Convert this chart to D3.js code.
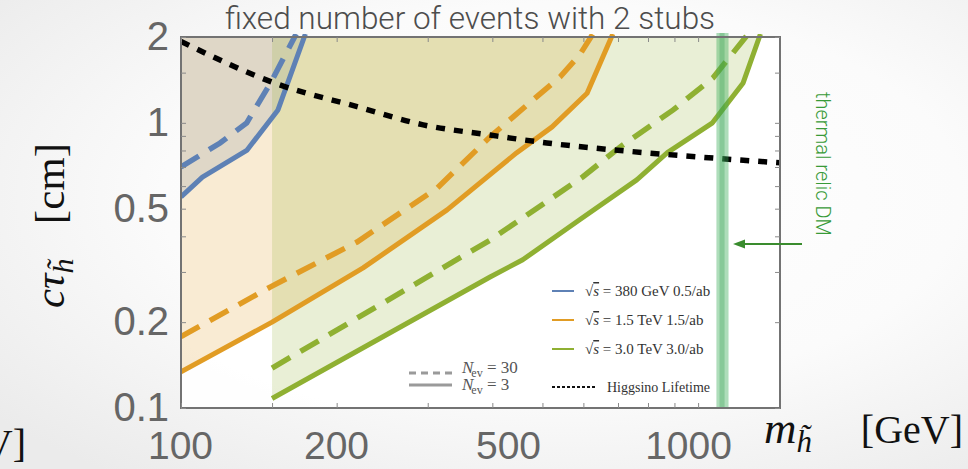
<!DOCTYPE html>
<html>
<head>
<meta charset="utf-8">
<script src="https://cdn.jsdelivr.net/npm/d3@7"></script>
<style>
  html, body { margin: 0; padding: 0; background: #ffffff; }
  svg { display: block; }
</style>
</head>
<body>
<svg id="chart" width="968" height="469"></svg>
<script>
// ---- data: higgsino mass m (GeV) vs proper decay length c*tau (cm) ----
const massTicks = [100, 200, 500, 1000];
const massMinorTicks = [150, 300, 400, 600, 700, 800, 900];
const ctauTicks = [0.1, 0.2, 0.5, 1, 2];
const ctauMinorTicks = [0.3, 0.4, 0.6, 0.7, 0.8, 0.9, 1.5];

// reach contours [mass, c*tau]; "Nev3" = 3 events, "Nev30" = 30 events
const clic380Nev3 = [[100, 0.55], [110, 0.645], [134, 0.80], [154, 1.11], [174, 2.05]];
const clic380Nev30 = [[100, 0.70], [119, 0.85], [134, 1.0], [149, 1.38], [167, 2.05]];
const clic1500Nev3 = [[100, 0.134], [150, 0.20], [225, 0.31], [327, 0.495], [446, 0.786],
                      [522, 0.968], [610, 1.27], [684, 2.05]];
const clic1500Nev30 = [[100, 0.178], [149, 0.266], [219, 0.382], [313, 0.591], [396, 0.893],
                       [439, 1.05], [541, 1.45], [590, 1.73], [626, 2.05]];
const clic3000Nev3 = [[150, 0.108], [396, 0.288], [458, 0.331], [590, 0.457], [761, 0.631],
                      [872, 0.786], [1066, 1.0], [1222, 1.38], [1320, 2.05]];
const clic3000Nev30 = [[150, 0.138], [396, 0.388], [473, 0.483], [598, 0.646], [706, 0.822],
                       [895, 1.11], [1069, 1.44], [1250, 2.05]];

// pure higgsino lifetime
const higgsinoLifetime = [[100, 1.93], [155, 1.36], [219, 1.14], [294, 0.984], [396, 0.906],
                          [510, 0.85], [685, 0.804], [993, 0.76], [1440, 0.724]];

// thermal relic higgsino mass band (GeV)
const thermalRelicOuter = [1085, 1145];
const thermalRelicInner = [1100, 1125];

const legendEnergies = ["380 GeV 0.5/ab", "1.5 TeV 1.5/ab", "3.0 TeV 3.0/ab"];
const eventCounts = [30, 3];

// ---- styling ----
const seriesColors = ["#5E81B5", "#E19C24", "#8FB032"];
const W = 968, H = 469;
const L = 181, R = 780, T = 37, B = 408;

const svg = d3.select("#chart");
const defs = svg.append("defs");

// soft slide-like vignette behind everything
const bg = defs.append("radialGradient").attr("id", "bgGrad")
  .attr("cx", "58%").attr("cy", "42%").attr("r", "75%");
bg.append("stop").attr("offset", "0%").attr("stop-color", "#ffffff");
bg.append("stop").attr("offset", "55%").attr("stop-color", "#fbfbfb");
bg.append("stop").attr("offset", "100%").attr("stop-color", "#ebebeb");
svg.append("rect").attr("width", W).attr("height", H).attr("fill", "url(#bgGrad)");

defs.append("clipPath").attr("id", "plotClip")
  .append("rect").attr("x", L).attr("y", T - 3).attr("width", R - L).attr("height", B - T + 3);

const x = d3.scaleLog().domain([100, 1440]).range([L, R]);
const y = d3.scaleLog().domain([0.1, 2]).range([B, T]);
// the large mass labels sit on their own (slightly offset) label scale
const xLabel = d3.scaleLog().domain(massTicks).range([180, 336, 508, 688]);

svg.append("rect").attr("x", L).attr("y", T).attr("width", R - L).attr("height", B - T)
  .attr("fill", "#ffffff").attr("opacity", 0.9);

const plot = svg.append("g").attr("clip-path", "url(#plotClip)");

// shaded reach regions: above each 3-event contour
const area = d3.area().x(d => x(d[0])).y0(y(2)).y1(d => y(d[1]));
[clic380Nev3, clic1500Nev3, clic3000Nev3].forEach((s, i) => {
  plot.append("path").datum(s).attr("d", area)
    .attr("fill", seriesColors[i]).attr("fill-opacity", 0.2);
});

const line = d3.line().x(d => x(d[0])).y(d => y(d[1]));
[[clic380Nev3, clic380Nev30], [clic1500Nev3, clic1500Nev30], [clic3000Nev3, clic3000Nev30]]
  .forEach(([solid, dashed], i) => {
    plot.append("path").datum(dashed).attr("d", line)
      .attr("fill", "none").attr("stroke", seriesColors[i]).attr("stroke-width", 5.5)
      .attr("stroke-dasharray", "21,12");
    plot.append("path").datum(solid).attr("d", line)
      .attr("fill", "none").attr("stroke", seriesColors[i]).attr("stroke-width", 5)
      .attr("stroke-linejoin", "round");
  });

// thermal relic band (slightly overhangs the frame top)
svg.append("rect")
  .attr("x", x(thermalRelicOuter[0])).attr("width", x(thermalRelicOuter[1]) - x(thermalRelicOuter[0]))
  .attr("y", T - 4).attr("height", B - T + 3)
  .attr("fill", "#3fae5a").attr("fill-opacity", 0.42);
svg.append("rect")
  .attr("x", x(thermalRelicInner[0])).attr("width", x(thermalRelicInner[1]) - x(thermalRelicInner[0]))
  .attr("y", T - 4).attr("height", B - T + 3)
  .attr("fill", "#2f9a4a").attr("fill-opacity", 0.3);

// higgsino lifetime curve
plot.append("path").datum(higgsinoLifetime)
  .attr("d", line.curve(d3.curveMonotoneX))
  .attr("fill", "none").attr("stroke", "#000").attr("stroke-width", 5.5)
  .attr("stroke-dasharray", "9,9");
line.curve(d3.curveLinear);

// frame
svg.append("rect").attr("x", L).attr("y", T).attr("width", R - L).attr("height", B - T)
  .attr("fill", "none").attr("stroke", "#737373").attr("stroke-width", 2);

// inward tick marks on all four sides
const allMass = massTicks.concat(massMinorTicks);
const allCtau = ctauTicks.concat(ctauMinorTicks);
function tickStyle(g) {
  g.select(".domain").remove();
  g.selectAll(".tick line").attr("stroke", "#8a8a8a").attr("stroke-width", 1);
}
svg.append("g").attr("transform", `translate(0,${B})`)
  .call(d3.axisBottom(x).tickValues(allMass).tickSizeInner(-5).tickSizeOuter(0).tickFormat(""))
  .call(tickStyle);
svg.append("g").attr("transform", `translate(0,${T})`)
  .call(d3.axisTop(x).tickValues(allMass).tickSizeInner(-5).tickSizeOuter(0).tickFormat(""))
  .call(tickStyle);
svg.append("g").attr("transform", `translate(${L},0)`)
  .call(d3.axisLeft(y).tickValues(allCtau).tickSizeInner(-5).tickSizeOuter(0).tickFormat(""))
  .call(tickStyle);
svg.append("g").attr("transform", `translate(${R},0)`)
  .call(d3.axisRight(y).tickValues(allCtau).tickSizeInner(-5).tickSizeOuter(0).tickFormat(""))
  .call(tickStyle);

// large tick labels
const xLab = svg.append("g").attr("transform", `translate(0,${B})`)
  .call(d3.axisBottom(xLabel).tickValues(massTicks).tickSize(0).tickPadding(23).tickFormat(d3.format("d")));
xLab.select(".domain").remove();
xLab.attr("font-family", "'Liberation Sans', Arial, sans-serif").attr("font-size", 39)
  .attr("color", "#666666");

const yLab = svg.append("g").attr("transform", `translate(${L},0)`)
  .call(d3.axisLeft(y).tickValues(ctauTicks).tickSize(0).tickPadding(12).tickFormat(d3.format("~g")));
yLab.select(".domain").remove();
yLab.attr("font-family", "'Liberation Sans', Arial, sans-serif").attr("font-size", 40)
  .attr("color", "#666666");

// title
svg.append("text").attr("x", 470).attr("y", 29).attr("text-anchor", "middle")
  .attr("font-family", "Roboto, 'Liberation Sans', sans-serif").attr("font-weight", 300)
  .attr("font-size", 31.5).attr("fill", "#4d4d4d")
  .text("fixed number of events with 2 stubs");

// axis titles
const serif = "'Liberation Serif', 'DejaVu Serif', serif";
const yTitle = svg.append("text").attr("transform", "translate(64,308) rotate(-90)")
  .attr("font-family", serif).attr("font-size", 43).attr("fill", "#111");
yTitle.append("tspan").attr("font-style", "italic").text("cτ");
yTitle.append("tspan").attr("font-style", "italic").attr("font-size", 30).attr("dy", 9).text("h\u0303");
svg.append("text").attr("transform", "translate(64,143) rotate(-90)").attr("text-anchor", "end")
  .attr("font-family", serif).attr("font-size", 43).attr("fill", "#111").text("[cm]");

const xTitle = svg.append("text").attr("x", 764).attr("y", 443)
  .attr("font-family", serif).attr("font-size", 45).attr("fill", "#111");
xTitle.append("tspan").attr("font-style", "italic").text("m");
xTitle.append("tspan").attr("font-style", "italic").attr("font-size", 31).attr("dy", 9).text("h\u0303");
svg.append("text").attr("x", 963).attr("y", 443).attr("text-anchor", "end")
  .attr("font-family", serif).attr("font-size", 40).attr("fill", "#111").text("[GeV]");

// unit of the neighbouring panel, running off the left edge
svg.append("text").attr("x", 26).attr("y", 457).attr("text-anchor", "end")
  .attr("font-family", serif).attr("font-size", 40).attr("fill", "#111").text("[GeV]");

// thermal relic annotation
svg.append("text").attr("transform", "translate(816,92) rotate(90)")
  .attr("font-family", "Roboto, 'Liberation Sans', sans-serif").attr("font-weight", 300)
  .attr("font-size", 20).attr("fill", "#389a38").text("thermal relic DM");
svg.append("line").attr("x1", 802).attr("x2", 740).attr("y1", 244).attr("y2", 244)
  .attr("stroke", "#3a8c2e").attr("stroke-width", 2);
svg.append("path").attr("d", "M733,244 L745,239.5 L745,248.5 Z").attr("fill", "#3a8c2e");

// series legend
const legend = svg.append("g").attr("font-family", serif).attr("fill", "#333");
legendEnergies.forEach((label, i) => {
  const ly = 291 + i * 29;
  legend.append("line").attr("x1", 552).attr("x2", 574).attr("y1", ly).attr("y2", ly)
    .attr("stroke", seriesColors[i]).attr("stroke-width", 2);
  const t = legend.append("text").attr("x", 585).attr("y", ly + 5).attr("font-size", 15);
  t.append("tspan").text("√");
  t.append("tspan").attr("font-style", "italic").attr("text-decoration", "overline").text("s");
  t.append("tspan").text(" = " + label);
});
legend.append("line").attr("x1", 552).attr("x2", 596).attr("y1", 387).attr("y2", 387)
  .attr("stroke", "#111").attr("stroke-width", 2).attr("stroke-dasharray", "3,2");
legend.append("text").attr("x", 607).attr("y", 392).attr("font-size", 14).text("Higgsino Lifetime");

// event-count legend
const evLegend = svg.append("g").attr("font-family", serif).attr("fill", "#555");
eventCounts.forEach((n, i) => {
  const ly = 373 + i * 12;
  evLegend.append("line").attr("x1", 409).attr("x2", 452).attr("y1", ly).attr("y2", ly)
    .attr("stroke", "#9a9a9a").attr("stroke-width", 3)
    .attr("stroke-dasharray", i === 0 ? "7,5" : null);
  const t = evLegend.append("text").attr("x", 462).attr("y", ly + i * 5).attr("font-size", 17);
  t.append("tspan").attr("font-style", "italic").text("N");
  t.append("tspan").attr("font-size", 12).attr("dy", 4).attr("dx", -2).text("ev");
  t.append("tspan").attr("dy", -4).text(" = " + n);
});
</script>
</body>
</html>
